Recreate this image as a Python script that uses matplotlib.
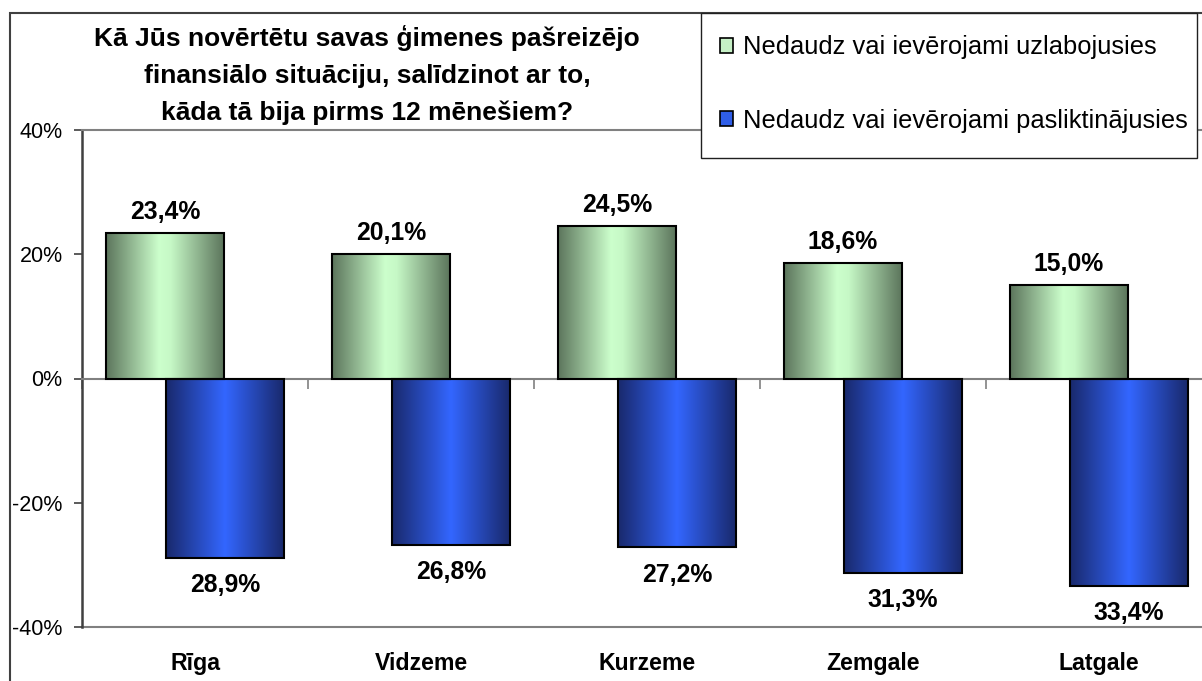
import matplotlib
matplotlib.use("Agg")
import matplotlib.pyplot as plt
import numpy as np
from matplotlib.colors import LinearSegmentedColormap
from matplotlib.patches import Rectangle
from matplotlib.ticker import FixedLocator, FuncFormatter
import matplotlib.transforms as mtransforms

categories = ["Rīga", "Vidzeme", "Kurzeme", "Zemgale", "Latgale"]
improved = [23.4, 20.1, 24.5, 18.6, 15.0]
worsened = [28.9, 26.8, 27.2, 31.3, 33.4]
improved_labels = ["23,4%", "20,1%", "24,5%", "18,6%", "15,0%"]
worsened_labels = ["28,9%", "26,8%", "27,2%", "31,3%", "33,4%"]
series_names = ["Nedaudz vai ievērojami uzlabojusies",
                "Nedaudz vai ievērojami pasliktinājusies"]
title = "Kā Jūs novērtētu savas ģimenes pašreizējo\nfinansiālo situāciju, salīdzinot ar to,\nkāda tā bija pirms 12 mēnešiem?"
yticks = [-40, -20, 0, 20, 40]

plt.rcParams['font.family'] = ['Liberation Sans', 'DejaVu Sans']

W, H = 1202, 681
fig = plt.figure(figsize=(W / 100, H / 100), dpi=100)
ax = fig.add_axes([82 / W, (H - 627) / H, (1212 - 82) / W, (627 - 130) / H])

green_cmap = LinearSegmentedColormap.from_list(
    "g", [(0, "#5c755c"), (0.45, "#ccffcc"), (0.55, "#c6f8c6"), (1, "#5c755c")])
blue_cmap = LinearSegmentedColormap.from_list(
    "b", [(0, "#19296c"), (0.5, "#3366ff"), (1, "#19296c")])

x = np.arange(len(categories))
bw = 0.522
off = 0.133
bars_g = ax.bar(x - off, improved, bw, facecolor="#ccffcc", edgecolor="black", linewidth=1.5, zorder=3)
bars_b = ax.bar(x + off, [-v for v in worsened], bw, facecolor="#3366ff", edgecolor="black", linewidth=1.5, zorder=3)

grad = np.linspace(0, 1, 256).reshape(1, -1)
for bars, cmap in ((bars_g, green_cmap), (bars_b, blue_cmap)):
    for b in bars:
        x0, y0 = b.get_x(), b.get_y()
        w, h = b.get_width(), b.get_height()
        im = ax.imshow(grad, cmap=cmap, aspect="auto",
                       extent=[x0, x0 + w, min(y0, y0 + h), max(y0, y0 + h)],
                       zorder=2.5, interpolation="bicubic")
        im.set_clip_path(b)
        b.set_facecolor("none")

ax.set_xlim(-0.5, 4.5)
ax.set_ylim(-40, 40)

for xi, v, lab in zip(x - off, improved, improved_labels):
    ax.annotate(lab, (xi, v), xytext=(0, 15), textcoords="offset points",
                ha="center", va="center", fontsize=17.8, fontweight="bold")
for xi, v, lab in zip(x + off, worsened, worsened_labels):
    ax.annotate(lab, (xi, -v), xytext=(0, -19.5), textcoords="offset points",
                ha="center", va="center", fontsize=17.8, fontweight="bold")

# y axis
ax.yaxis.set_major_locator(FixedLocator(yticks))
ax.yaxis.set_major_formatter(FuncFormatter(lambda v, p: f"{int(v)}%"))
ax.tick_params(axis="y", direction="out", length=6, width=1.2, color="#404040",
               labelsize=15.5, pad=8)
ax.spines["left"].set_color("#404040")
ax.spines["left"].set_linewidth(1.8)
ax.spines["right"].set_visible(False)
ax.spines["top"].set_color("#808080")
ax.spines["top"].set_linewidth(1.5)

# x axis at zero
ax.spines["bottom"].set_position(("data", 0))
ax.spines["bottom"].set_color("#808080")
ax.spines["bottom"].set_linewidth(1.5)
ax.xaxis.set_major_locator(FixedLocator(list(np.arange(-0.5, 5.0, 1.0))))
ax.xaxis.set_major_formatter(FuncFormatter(lambda v, p: ""))
ax.tick_params(axis="x", direction="out", length=7, width=1.2, color="#808080")
ax.axhline(-40, color="#808080", linewidth=1.5, zorder=1, clip_on=False)

trans = mtransforms.blended_transform_factory(ax.transData, ax.transAxes)
for xi, c in zip(x, categories):
    ax.annotate(c, (xi, 0), xycoords=trans, xytext=(0, -26.5), textcoords="offset points",
                ha="center", va="center", fontsize=16.7, fontweight="bold")

fig.text(367 / W, 1 - 75 / H, title, ha="center", va="center", fontsize=19,
         fontweight="bold", linespacing=1.66)

# outer frame
fig.patches.append(Rectangle((10 / W, -0.1), 2, (H - 13) / H + 0.1, transform=fig.transFigure,
                             fill=False, edgecolor="#404040", linewidth=1.5))

# legend frame
fig.patches.append(Rectangle((701 / W, 1 - 158 / H), (1197 - 701) / W, 145 / H,
                             transform=fig.transFigure, facecolor="white",
                             edgecolor="#202020", linewidth=1.0, zorder=4))

handles = [Rectangle((0, 0), 1, 1, facecolor="#c6f0c6", edgecolor="black", linewidth=1.2),
           Rectangle((0, 0), 1, 1, facecolor="#2f5ee8", edgecolor="black", linewidth=1.2)]
leg = fig.legend(handles, series_names, loc="center left",
                 bbox_to_anchor=(712 / W, 1 - 84 / H), borderaxespad=0,
                 fontsize=18.4, frameon=False,
                 handlelength=0.52, handleheight=0.52, handletextpad=0.38,
                 labelspacing=1.92, borderpad=0.3)
leg.set_zorder(5)

fig.savefig("out.png", dpi=100)
